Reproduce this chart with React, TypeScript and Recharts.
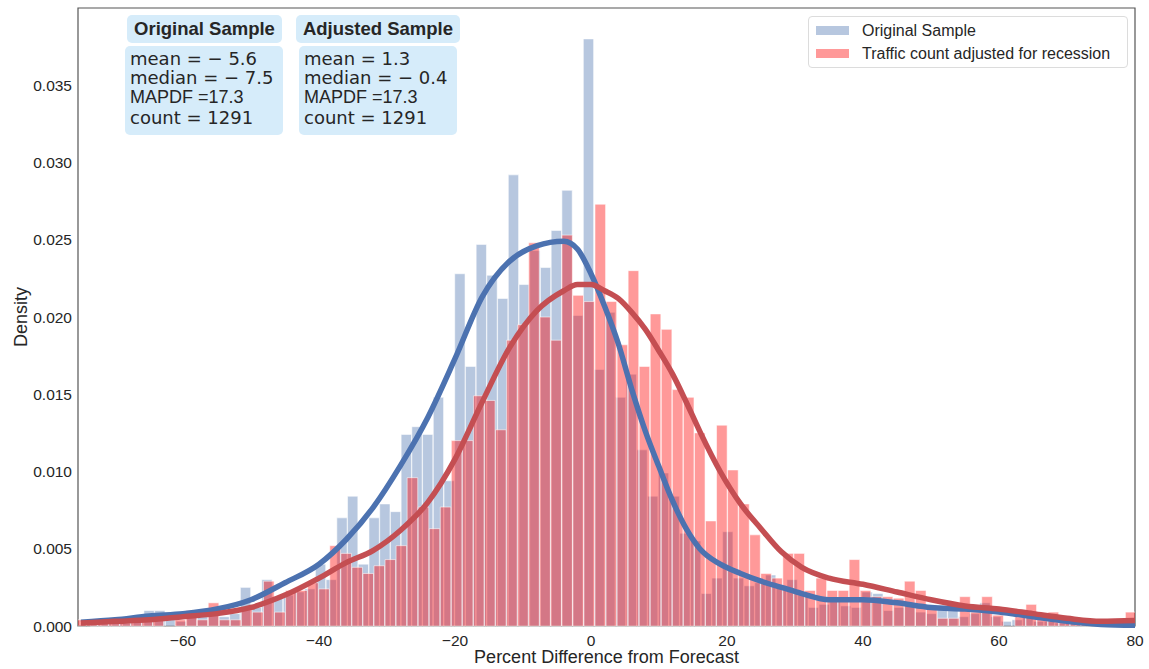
import React from 'react';
import { ComposedChart, Bar, Line, XAxis, YAxis, ReferenceArea } from 'recharts';

// histogram bins: equal-width, first bin centre + width
const origFirstCenter = -72.836;
const origBinWidth = 1.576;
const adjFirstCenter = -74.975;
const adjBinWidth = 1.625;

const origDensity = [
  0.0003, 0.0003, 0.0004, 0.0003, 0.0004, 0.001, 0.001, 0.0005, 0.0003, 0.0006,
  0.0006, 0.0008, 0.0006, 0.0008, 0.0025, 0.0012, 0.003, 0.0019, 0.002, 0.0022,
  0.0024, 0.004, 0.003, 0.007, 0.0084, 0.004, 0.007, 0.0079, 0.0074, 0.0124,
  0.0129, 0.0124, 0.0148, 0.0094, 0.0228, 0.0168, 0.0247, 0.0227, 0.0212, 0.0292,
  0.0221, 0.0243, 0.0232, 0.0256, 0.0282, 0.0201, 0.038, 0.0166, 0.0203, 0.0148,
  0.0163, 0.0114, 0.0084, 0.0099, 0.0084, 0.006, 0.0055, 0.0021, 0.0031, 0.0061,
  0.0031, 0.0026, 0.0028, 0.0033, 0.0025, 0.003, 0.002, 0.0012, 0.0014, 0.0016,
  0.0013, 0.0012, 0.0022, 0.0021, 0.001, 0.0012, 0.0014, 0.0009, 0.0008, 0.0012,
  0.0012, 0.0006, 0.0008, 0.0015, 0.0006, 0.0003, 0.0004, 0.0008, 0.0003, 0.0003,
  0.0002, 0.0002, 0.0001, 0.0001, 0.0001, 0.0001,
];

const adjDensity = [
  0.0004, 0.0003, 0.0002, 0.0003, 0.0002, 0.0003, 0.0004, 0.0004, 0.0, 0.0004,
  0.001, 0.0004, 0.0015, 0.0004, 0.0004, 0.0011, 0.0009, 0.0029, 0.0009, 0.0023,
  0.0023, 0.0028, 0.0024, 0.0052, 0.0047, 0.0038, 0.0034, 0.0039, 0.0043, 0.0052,
  0.0096, 0.0077, 0.0063, 0.0077, 0.012, 0.012, 0.0149, 0.0146, 0.0127, 0.0185,
  0.0195, 0.0248, 0.02, 0.0185, 0.0253, 0.0214, 0.021, 0.0273, 0.021, 0.0182,
  0.023, 0.0168, 0.0202, 0.0192, 0.0153, 0.0148, 0.0125, 0.0068, 0.013, 0.0101,
  0.0079, 0.0059, 0.0034, 0.0031, 0.0047, 0.0047, 0.0023, 0.0031, 0.0023, 0.0023,
  0.0043, 0.0023, 0.0019, 0.0019, 0.0018, 0.0029, 0.0023, 0.0013, 0.0005, 0.0005,
  0.0019, 0.0009, 0.0019, 0.0007, 0.0, 0.0006, 0.0014, 0.0008, 0.0009, 0.0005,
  0.0003, 0.0003, 0.0002, 0.0002, 0.0003, 0.0009,
];

// kde curves
const kdeX = [
  -75, -70, -65, -60, -55, -50, -45, -40, -36, -32, -28, -24, -20, -16, -12, -8, -4, -2, 0, 2, 4,
  6, 8, 10, 12, 14, 16, 19, 22, 25, 28, 31, 35, 40, 45, 50, 55, 60, 65, 70, 75, 80,
];
const kdeOrig = [
  0.00025, 0.0004, 0.00065, 0.0008, 0.0011, 0.0017, 0.0028, 0.004, 0.0056, 0.0077, 0.0104,
  0.0135, 0.0173, 0.0213, 0.0236, 0.0246, 0.0249, 0.0244, 0.0228, 0.0207, 0.0183, 0.0153,
  0.0126, 0.0103, 0.0081, 0.0063, 0.005, 0.004, 0.0034, 0.0029, 0.0025, 0.0021, 0.0017,
  0.0017, 0.0015, 0.0012, 0.0011, 0.0009, 0.0006, 0.0003, 0.0001, 0.00005,
];
const kdeAdj = [
  0.0002, 0.0003, 0.0004, 0.0006, 0.0008, 0.0012, 0.002, 0.0031, 0.0041, 0.0049, 0.0062,
  0.008, 0.0108, 0.0145, 0.018, 0.0204, 0.0217, 0.0221, 0.0221, 0.0217, 0.0212, 0.0203,
  0.0192, 0.0178, 0.0163, 0.0145, 0.0126, 0.01, 0.0079, 0.0063, 0.0048, 0.0038, 0.0031,
  0.0027, 0.0022, 0.0017, 0.0013, 0.0011, 0.0008, 0.0005, 0.0003, 0.00035,
];

const xTicks = [-60, -40, -20, 0, 20, 40, 60, 80];
const yTicks = [0, 0.005, 0.01, 0.015, 0.02, 0.025, 0.03, 0.035];
const xDomain = [-75.44, 80];

const statsOrig = ['mean = \u2212 5.6', 'median = \u2212 7.5', 'MAPDF =17.3', 'count = 1291'];
const statsAdj = ['mean = 1.3', 'median = \u2212 0.4', 'MAPDF =17.3', 'count = 1291'];

const rows = origDensity.map((v, i) => ({
  xo: +(origFirstCenter + i * origBinWidth).toFixed(3),
  orig: v,
  xa: +(adjFirstCenter + i * adjBinWidth).toFixed(3),
  adj: adjDensity[i],
  xk: kdeX[i],
  kdeO: kdeOrig[i],
  kdeA: kdeAdj[i],
}));

const TXT = '#262626';
const SANS = '"Liberation Sans", Arial, sans-serif';
const DEJAVU = '"DejaVu Sans", sans-serif';
const tickStyle = { fontSize: 15.5, fill: TXT, fontFamily: SANS };

const fmtX = (v: number) => (v < 0 ? '\u2212' + Math.abs(v) : String(v));

function StatBox({ left, titleLeft, title, lines, tw }: { left: number; titleLeft: number; title: string; lines: string[]; tw: number }) {
  const bg = 'rgb(214,236,250)';
  return (
    <>
      <div
        style={{
          position: 'absolute', left: titleLeft, top: 15, width: tw, height: 28, background: bg,
          borderRadius: 5, fontFamily: SANS, fontWeight: 'bold', fontSize: 18.5, color: TXT,
          textAlign: 'center', lineHeight: '28px', whiteSpace: 'nowrap',
        }}
      >
        {title}
      </div>
      <div
        style={{
          position: 'absolute', left, top: 46, width: 158, height: 89, background: bg,
          borderRadius: 5, boxSizing: 'border-box', paddingLeft: 5, paddingTop: 2.5, color: TXT,
        }}
      >
        {lines.map((t) => (
          <div
            key={t}
            style={{ fontFamily: t.startsWith('MAPDF') ? SANS : DEJAVU, fontSize: 18, lineHeight: '19.7px', whiteSpace: 'nowrap' }}
          >
            {t}
          </div>
        ))}
      </div>
    </>
  );
}

export default function App() {
  return (
    <div style={{ position: 'absolute', left: 0, top: 0, width: 1149, height: 669, background: '#fff' }}>
      <ComposedChart width={1149} height={669} data={rows} margin={{ top: 8, right: 14, bottom: 0, left: 8 }}>
        <XAxis
          xAxisId="a0"
          dataKey="xo"
          type="number"
          domain={xDomain}
          allowDataOverflow
          ticks={xTicks}
          tickFormatter={fmtX}
          tick={tickStyle}
          tickLine={false}
          tickSize={0}
          tickMargin={9}
          axisLine={false}
          height={43}
          label={{
            content: ({ viewBox }: any) => (
              <text x={viewBox.x + viewBox.width / 2} y={viewBox.y + 37} textAnchor="middle" fontSize={18} fill={TXT} fontFamily={SANS}>
                Percent Difference from Forecast
              </text>
            ),
          }}
        />
        <XAxis xAxisId="b1" dataKey="xa" type="number" domain={xDomain} allowDataOverflow hide height={0} />
        <XAxis xAxisId="c2" dataKey="xk" type="number" domain={xDomain} allowDataOverflow hide height={0} />
        <YAxis
          type="number"
          domain={[0, 0.04]}
          ticks={yTicks}
          tickFormatter={(v: number) => v.toFixed(3)}
          tick={tickStyle}
          tickLine={false}
          tickSize={0}
          tickMargin={6}
          axisLine={false}
          width={70}
          label={{
            content: ({ viewBox }: any) => {
              const cx = 27;
              const cy = viewBox.y + viewBox.height / 2;
              return (
                <text x={cx} y={cy} transform={`rotate(-90 ${cx} ${cy})`} textAnchor="middle" fontSize={18} fill={TXT} fontFamily={SANS}>
                  Density
                </text>
              );
            },
          }}
        />
        <Bar
          xAxisId="a0"
          dataKey="orig"
          barSize={10.3}
          fill="#4C72B0"
          fillOpacity={0.4}
          stroke="#ffffff"
          strokeOpacity={0.55}
          strokeWidth={1}
          isAnimationActive={false}
        />
        <Bar
          xAxisId="b1"
          dataKey="adj"
          barSize={10.6}
          fill="#ff0000"
          fillOpacity={0.4}
          stroke="#ffffff"
          strokeOpacity={0.55}
          strokeWidth={1}
          isAnimationActive={false}
        />
        <Line xAxisId="c2" dataKey="kdeO" type="monotone" stroke="#4C72B0" strokeWidth={5.5} dot={false} connectNulls isAnimationActive={false} />
        <Line xAxisId="c2" dataKey="kdeA" type="monotone" stroke="#C44E52" strokeWidth={5.5} dot={false} connectNulls isAnimationActive={false} />
        <ReferenceArea xAxisId="a0" x1={xDomain[0]} x2={xDomain[1]} y1={0} y2={0.04} fill="none" stroke="#555" strokeWidth={1.2} ifOverflow="visible" />
      </ComposedChart>

      <StatBox left={125} titleLeft={127} tw={155} title="Original Sample" lines={statsOrig} />
      <StatBox left={299} titleLeft={296} tw={164} title="Adjusted Sample" lines={statsAdj} />

      <div
        style={{
          position: 'absolute', left: 808, top: 16, width: 320, height: 52, boxSizing: 'border-box',
          border: '1px solid #dcdcdc', borderRadius: 4, background: 'rgba(255,255,255,0.85)',
          fontFamily: SANS, fontSize: 16, color: TXT,
        }}
      >
        {[
          { label: 'Original Sample', color: 'rgba(76,114,176,0.4)', top: 9 },
          { label: 'Traffic count adjusted for recession', color: 'rgba(255,0,0,0.4)', top: 32 },
        ].map((it) => (
          <div key={it.label} style={{ position: 'absolute', left: 0, top: it.top, height: 9, width: '100%' }}>
            <div style={{ position: 'absolute', left: 7, top: 0, width: 33, height: 9, background: it.color }} />
            <div style={{ position: 'absolute', left: 53, top: -5, lineHeight: '19px', whiteSpace: 'nowrap' }}>{it.label}</div>
          </div>
        ))}
      </div>
    </div>
  );
}
